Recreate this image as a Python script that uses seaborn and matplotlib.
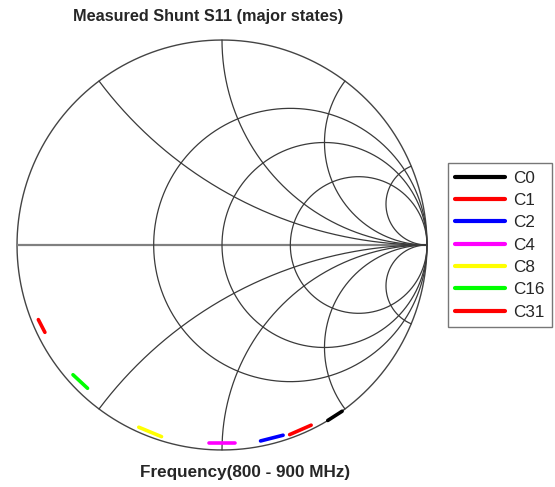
import numpy as np
import pandas as pd
import seaborn as sns
import matplotlib
matplotlib.use("Agg")
import matplotlib.pyplot as plt

# measured S11 at 800 and 900 MHz (real, imag) for each major state
states = ["C0", "C1", "C2", "C4", "C8", "C16", "C31"]
colors = ["#000000", "#ff0000", "#0000ff", "#ff00ff", "#ffff00", "#00ff00", "#ff0000"]
re_800 = [0.586, 0.435, 0.298, 0.063, -0.295, -0.656, -0.864]
im_800 = [-0.811, -0.879, -0.928, -0.967, -0.935, -0.699, -0.426]
re_900 = [0.516, 0.330, 0.188, -0.063, -0.406, -0.727, -0.896]
im_900 = [-0.856, -0.925, -0.956, -0.967, -0.889, -0.633, -0.364]

resistances = [0.5, 1.0, 2.0]
reactances = [0.5, 1.0, 2.0, 5.0]

rows = []
for i, s in enumerate(states):
    rows.append({"state": s, "freq": 800, "re": re_800[i], "im": im_800[i]})
    rows.append({"state": s, "freq": 900, "re": re_900[i], "im": im_900[i]})
df = pd.DataFrame(rows)

sns.set_style("white")
plt.rcParams["font.family"] = ["Liberation Sans", "DejaVu Sans"]

fig = plt.figure(figsize=(5.55, 4.87), dpi=100)
W, H = 555, 487
cx, cy, R = 222, 245, 206
ax = fig.add_axes([(cx - R) / W, 1 - (cy + R) / H, 2 * R / W, 2 * R / H])

grid_col = "#3a3a3a"

# outer circle
t = np.linspace(0, 2 * np.pi, 600)
ax.plot(np.cos(t), np.sin(t), color="#444444", lw=1.0, zorder=1)

# real axis
ax.plot([-1, 1], [0, 0], color="#808080", lw=1.6, zorder=1)

# constant resistance circles
xx = np.tan(np.linspace(-np.pi / 2 + 1e-4, np.pi / 2 - 1e-4, 2000))
for r in resistances:
    g = (r + 1j * xx - 1) / (r + 1j * xx + 1)
    ax.plot(g.real, g.imag, color=grid_col, lw=0.9, zorder=1)

# constant reactance arcs
rr = np.concatenate([np.linspace(0, 5, 800), np.logspace(np.log10(5), 5, 800)])
for x in reactances:
    for sgn in (1, -1):
        g = (rr + 1j * sgn * x - 1) / (rr + 1j * sgn * x + 1)
        ax.plot(g.real, g.imag, color=grid_col, lw=0.9, zorder=1)

sns.lineplot(data=df, x="re", y="im", hue="state", hue_order=states,
             palette=colors, sort=False, estimator=None, lw=2.6,
             ax=ax, zorder=3, legend=False)

ax.set_xlim(-1.005, 1.005)
ax.set_ylim(-1.005, 1.005)
ax.set_aspect("equal")
ax.axis("off")

fig.text(208 / W, 1 - 16 / H, "Measured Shunt S11 (major states)",
         ha="center", va="center", fontsize=11.7, fontweight="bold")
fig.text(245 / W, 1 - 472 / H, "Frequency(800 - 900 MHz)",
         ha="center", va="center", fontsize=12.3, fontweight="bold")

handles = [plt.Line2D([], [], color=c, lw=3) for c in colors]
leg = fig.legend(handles, states, loc="upper right",
                 bbox_to_anchor=(552 / W, 1 - 163 / H), fontsize=12.3,
                 frameon=True, fancybox=False, edgecolor="#555555",
                 handlelength=2.9, handletextpad=0.47, labelspacing=0.43,
                 borderpad=0.45, borderaxespad=0)
leg.get_frame().set_linewidth(1.0)

fig.savefig("out.png", dpi=100, facecolor="white")
